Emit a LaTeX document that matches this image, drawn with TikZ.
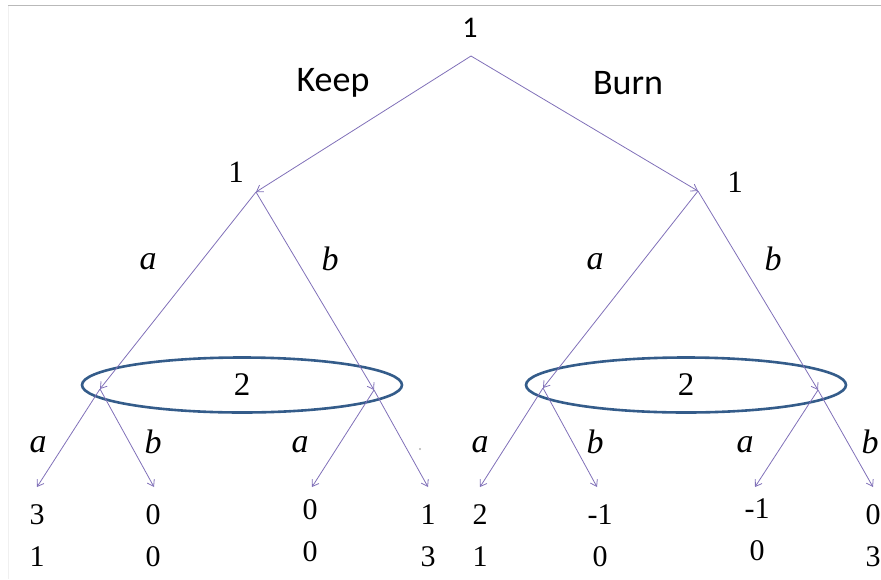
\documentclass[tikz,border=0pt]{standalone}
\usepackage{fontspec}
\usepackage{xcolor}
\setmainfont{Liberation Serif}
\newfontfamily\calibri{Carlito}
\usetikzlibrary{arrows.meta,shapes.geometric}

\definecolor{movecol}{RGB}{128,112,184}
\definecolor{setcol}{RGB}{52,92,138}

\begin{document}
\begin{tikzpicture}[x=1pt,y=-1pt,
  move/.style={-{Straight Barb[length=6pt,width=8pt]}, line width=0.8pt, draw=movecol},
  player/.style={font=\fontsize{31}{36}\selectfont},
  choice/.style={font=\calibri\fontsize{36}{40}\selectfont},
  act/.style={font=\itshape\fontsize{34}{38}\selectfont},
  infoset/.style={ellipse, draw=setcol, line width=2.6pt, minimum width=320pt, minimum height=55pt, inner sep=0pt, font=\fontsize{33}{36}\selectfont},
  payoff/.style={align=center, inner sep=0pt, font=\fontsize{30}{42}\selectfont}]
  \useasboundingbox (0,0) rectangle (881,579);

  % screenshot frame
  \draw[gray!55, line width=1.5pt] (8,5.5) -- (881,5.5);
  \draw[gray!12, line width=1pt] (8,5.5) -- (8,579);

  % Root
  \node[player, font=\calibri\fontsize{30}{34}\selectfont] (rootlbl) at (470,28) {1};
  \coordinate (root) at (471,56);
  \node[choice] (keep) at (333,83) {Keep};
  \node[choice] (burn) at (628,83) {Burn};

  % Player 1 second moves
  \coordinate (kp) at (256,192);
  \coordinate (bn) at (698,191);
  \node[player] (kplbl) at (236,172) {1};
  \node[player] (bnlbl) at (735,182) {1};
  \draw[move] (root) -- (kp);
  \draw[move] (root) -- (bn);

  % Information sets of player 2
  \node[infoset] (setK) at (242,385) {2};
  \node[infoset] (setB) at (686,385) {2};
  \coordinate (ka) at (100,389);
  \coordinate (kb) at (374,390);
  \coordinate (ba) at (543,388);
  \coordinate (bb) at (818,390);
  \draw[move] (kp) -- (ka);
  \draw[move] (kp) -- (kb);
  \draw[move] (bn) -- (ba);
  \draw[move] (bn) -- (bb);
  \node[act] (kalbl) at (148,262) {a};
  \node[act] (kblbl) at (330,259) {b};
  \node[act] (balbl) at (595,262) {a};
  \node[act] (bblbl) at (773,259) {b};

  % Terminal nodes
  \coordinate (t1) at (37,487);
  \coordinate (t2) at (154,487);
  \coordinate (t3) at (312,487);
  \coordinate (t4) at (428,487);
  \coordinate (t5) at (480,487);
  \coordinate (t6) at (597,487);
  \coordinate (t7) at (755,487);
  \coordinate (t8) at (873,487);
  \draw[move] (ka) -- (t1);
  \draw[move] (ka) -- (t2);
  \draw[move] (kb) -- (t3);
  \draw[move] (kb) -- (t4);
  \draw[move] (ba) -- (t5);
  \draw[move] (ba) -- (t6);
  \draw[move] (bb) -- (t7);
  \draw[move] (bb) -- (t8);
  \node[act] (l1) at (38,445) {a};
  \node[act] (l2) at (153,442) {b};
  \node[act] (l3) at (300,445) {a};
  \fill[gray!60] (420,449) circle (1.1pt);
  \node[act] (l5) at (480,445) {a};
  \node[act] (l6) at (595,442) {b};
  \node[act] (l7) at (745,445) {a};
  \node[act] (l8) at (870,442) {b};

  % Payoffs
  \node[payoff] (p1) at (37,536) {3\\1};
  \node[payoff] (p2) at (153,536) {0\\0};
  \node[payoff] (p3) at (310,531) {0\\0};
  \node[payoff] (p4) at (428,536) {1\\3};
  \node[payoff] (p5) at (480,536) {2\\1};
  \node[payoff] (p6) at (600,536) {-1\\0};
  \node[payoff] (p7) at (757,530) {-1\\0};
  \node[payoff] (p8) at (873,536) {0\\3};
\end{tikzpicture}
\end{document}
